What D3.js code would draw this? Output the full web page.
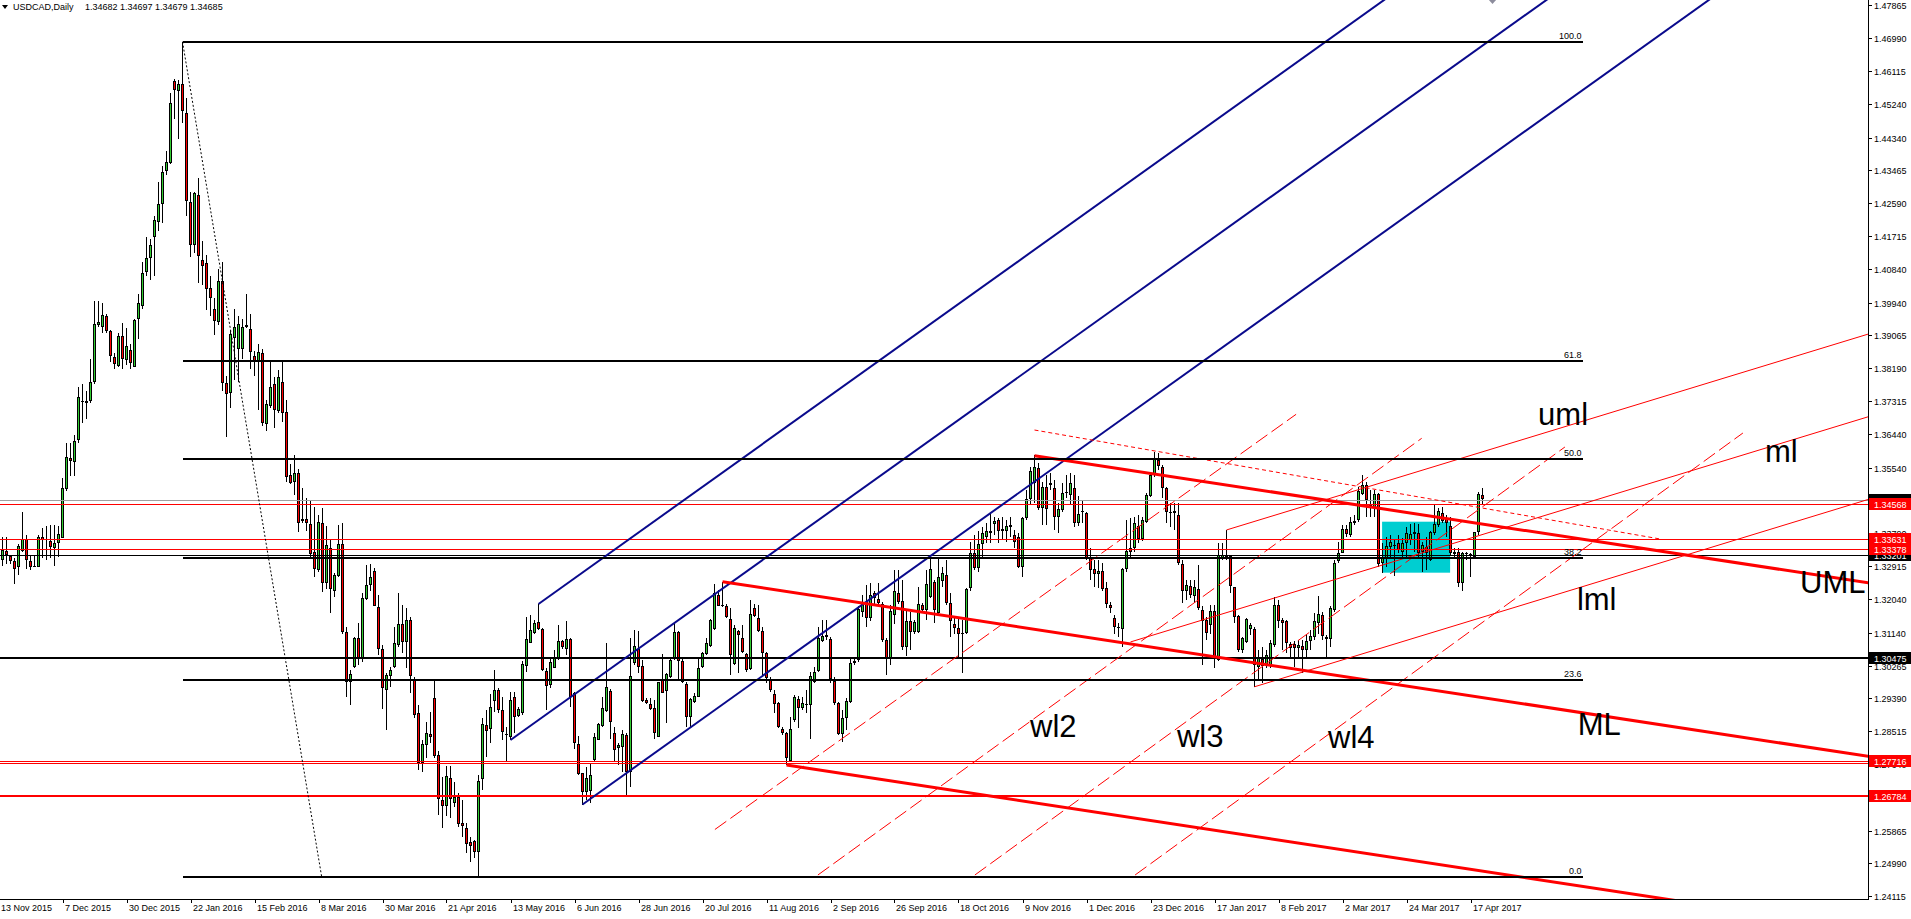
<!DOCTYPE html>
<html>
<head>
<meta charset="utf-8">
<script src="https://cdnjs.cloudflare.com/ajax/libs/d3/7.8.5/d3.min.js"></script>
<style>
html, body { margin: 0; padding: 0; background: #fff; overflow: hidden; }
text { font-family: "Liberation Sans", Arial, sans-serif; }
</style>
</head>
<body>
<svg id="chart" width="1911" height="919"></svg>
<script>
// USDCAD daily, 13 Nov 2015 .. 20 Apr 2017, one row per bar: [open, high, low, close]
var ohlc = [
[1.3310,1.3335,1.3290,1.3307],[1.3307,1.3369,1.3293,1.3335],[1.3331,1.3369,1.3297,1.3321],[1.3319,1.3321,1.3297,1.3305],
[1.3304,1.3312,1.3245,1.3283],[1.3288,1.3350,1.3269,1.3345],[1.3331,1.3436,1.3329,1.3364],[1.3364,1.3374,1.3283,1.3307],
[1.3304,1.3321,1.3281,1.3288],[1.3290,1.3321,1.3288,1.3293],[1.3288,1.3374,1.3288,1.3369],[1.3369,1.3393,1.3312,1.3361],
[1.3361,1.3398,1.3307,1.3364],[1.3359,1.3402,1.3312,1.3342],[1.3340,1.3402,1.3293,1.3352],[1.3352,1.3398,1.3316,1.3377],
[1.3367,1.3526,1.3367,1.3499],[1.3497,1.3621,1.3493,1.3582],[1.3580,1.3621,1.3531,1.3572],[1.3569,1.3640,1.3531,1.3624],
[1.3629,1.3769,1.3621,1.3742],[1.3731,1.3778,1.3674,1.3728],[1.3726,1.3759,1.3683,1.3733],[1.3731,1.3845,1.3726,1.3783],
[1.3783,1.3998,1.3776,1.3938],[1.3935,1.3998,1.3928,1.3942],[1.3928,1.3993,1.3912,1.3962],[1.3957,1.3964,1.3913,1.3918],
[1.3919,1.3921,1.3836,1.3853],[1.3850,1.3859,1.3818,1.3830],[1.3825,1.3912,1.3822,1.3904],[1.3904,1.3940,1.3818,1.3843],
[1.3840,1.3926,1.3827,1.3879],[1.3867,1.3883,1.3818,1.3834],[1.3823,1.3950,1.3822,1.3948],[1.3950,1.4016,1.3897,1.3992],
[1.3986,1.4102,1.3978,1.4072],[1.4075,1.4169,1.4064,1.4114],[1.4112,1.4164,1.4054,1.4147],[1.4169,1.4226,1.4064,1.4213],
[1.4209,1.4316,1.4186,1.4258],[1.4258,1.4359,1.4207,1.4342],[1.4345,1.4397,1.4335,1.4370],[1.4366,1.4554,1.4364,1.4527],
[1.4585,1.4589,1.4483,1.4560],[1.4557,1.4587,1.4430,1.4578],[1.4578,1.4690,1.4473,1.4504],[1.4499,1.4540,1.4226,1.4266],
[1.4261,1.4288,1.4116,1.4147],[1.4147,1.4288,1.4126,1.4286],[1.4280,1.4326,1.4045,1.4118],[1.4107,1.4159,1.4040,1.4091],
[1.4099,1.4121,1.3973,1.4031],[1.4032,1.4064,1.3959,1.4005],[1.3976,1.4007,1.3907,1.3944],[1.3942,1.4083,1.3935,1.4052],
[1.4052,1.4102,1.3759,1.3781],[1.3781,1.3798,1.3636,1.3750],[1.3752,1.3921,1.3712,1.3910],[1.3900,1.3978,1.3788,1.3929],
[1.3871,1.3959,1.3783,1.3938],[1.3871,1.3950,1.3845,1.3929],[1.3929,1.4016,1.3926,1.3933],[1.3923,1.3964,1.3818,1.3862],
[1.3852,1.3864,1.3798,1.3838],[1.3838,1.3883,1.3707,1.3862],[1.3860,1.3870,1.3665,1.3672],[1.3670,1.3734,1.3652,1.3725],
[1.3719,1.3841,1.3712,1.3768],[1.3776,1.3797,1.3659,1.3708],[1.3706,1.3814,1.3699,1.3795],[1.3783,1.3837,1.3677,1.3701],
[1.3702,1.3734,1.3517,1.3528],[1.3534,1.3564,1.3510,1.3512],[1.3517,1.3588,1.3481,1.3541],[1.3539,1.3550,1.3383,1.3406],
[1.3416,1.3499,1.3406,1.3413],[1.3416,1.3472,1.3386,1.3406],[1.3404,1.3469,1.3317,1.3323],[1.3328,1.3450,1.3262,1.3283],
[1.3281,1.3428,1.3277,1.3408],[1.3406,1.3446,1.3223,1.3246],[1.3246,1.3398,1.3230,1.3348],[1.3339,1.3361,1.3167,1.3230],
[1.3226,1.3272,1.3210,1.3268],[1.3265,1.3401,1.3263,1.3350],[1.3350,1.3406,1.3110,1.3117],[1.3117,1.3130,1.2944,1.2984],
[1.2984,1.3014,1.2921,1.3003],[1.3022,1.3104,1.3019,1.3099],[1.3099,1.3139,1.3028,1.3043],[1.3048,1.3219,1.3037,1.3206],
[1.3204,1.3295,1.3200,1.3240],[1.3240,1.3297,1.3224,1.3262],[1.3279,1.3286,1.3184,1.3186],[1.3183,1.3215,1.3055,1.3072],
[1.3072,1.3081,1.2912,1.2966],[1.2961,1.3006,1.2855,1.3001],[1.2999,1.3024,1.2970,1.3015],[1.3024,1.3130,1.3019,1.3086],
[1.3081,1.3219,1.3077,1.3136],[1.3136,1.3188,1.3059,1.3090],[1.3090,1.3179,1.3019,1.3148],[1.3148,1.3157,1.2953,1.2999],
[1.2988,1.2997,1.2886,1.2895],[1.2899,1.2921,1.2748,1.2766],[1.2766,1.2828,1.2744,1.2817],[1.2815,1.2877,1.2779,1.2846],
[1.2844,1.2904,1.2819,1.2835],[1.2940,1.2989,1.2779,1.2785],[1.2788,1.2800,1.2628,1.2670],[1.2668,1.2730,1.2593,1.2652],
[1.2652,1.2759,1.2626,1.2732],[1.2726,1.2759,1.2619,1.2670],[1.2659,1.2717,1.2650,1.2675],[1.2675,1.2686,1.2597,1.2603],
[1.2606,1.2668,1.2570,1.2599],[1.2594,1.2608,1.2526,1.2550],[1.2555,1.2570,1.2504,1.2546],[1.2559,1.2561,1.2513,1.2529],
[1.2529,1.2735,1.2463,1.2720],[1.2723,1.2886,1.2695,1.2870],[1.2868,1.2908,1.2784,1.2853],[1.2857,1.2952,1.2819,1.2917],
[1.2933,1.3016,1.2904,1.2961],[1.2961,1.2966,1.2899,1.2908],[1.2908,1.2944,1.2828,1.2850],[1.2844,1.2864,1.2770,1.2841],
[1.2837,1.2957,1.2828,1.2935],[1.2942,1.2957,1.2846,1.2890],[1.2892,1.2917,1.2890,1.2910],[1.2901,1.3039,1.2895,1.3030],
[1.3026,1.3157,1.3010,1.3097],[1.3088,1.3161,1.3086,1.3121],[1.3114,1.3148,1.3112,1.3139],[1.3142,1.3191,1.3121,1.3123],
[1.3123,1.3126,1.3013,1.3015],[1.3013,1.3019,1.2908,1.2972],[1.2975,1.3046,1.2966,1.3037],[1.3021,1.3068,1.3019,1.3046],
[1.3043,1.3135,1.3041,1.3093],[1.3091,1.3095,1.3072,1.3077],[1.3070,1.3144,1.3055,1.3097],[1.3097,1.3099,1.2915,1.2944],
[1.2953,1.2957,1.2803,1.2821],[1.2817,1.2839,1.2735,1.2738],[1.2739,1.2741,1.2656,1.2690],[1.2690,1.2757,1.2668,1.2726],
[1.2693,1.2766,1.2659,1.2734],[1.2775,1.2846,1.2772,1.2837],[1.2828,1.2874,1.2828,1.2871],[1.2866,1.2944,1.2864,1.2913],
[1.2906,1.3086,1.2904,1.2969],[1.2959,1.2963,1.2830,1.2877],[1.2846,1.2864,1.2770,1.2802],[1.2806,1.2819,1.2762,1.2815],
[1.2810,1.2855,1.2744,1.2843],[1.2841,1.2846,1.2677,1.2744],[1.2744,1.3099,1.2704,1.2999],[1.3033,1.3121,1.3028,1.3079],
[1.3072,1.3120,1.3006,1.3024],[1.3025,1.3041,1.2930,1.2933],[1.2935,1.2939,1.2924,1.2926],[1.2923,1.2939,1.2908,1.2910],
[1.2914,1.2935,1.2830,1.2846],[1.2837,1.2984,1.2835,1.2984],[1.2988,1.3057,1.2953,1.2954],[1.2960,1.3006,1.2874,1.3004],
[1.2997,1.3050,1.2993,1.3041],[1.3043,1.3141,1.3041,1.3117],[1.3117,1.3120,1.2988,1.3040],[1.3040,1.3043,1.2979,1.2984],
[1.2978,1.2984,1.2864,1.2890],[1.2890,1.2939,1.2859,1.2937],[1.2930,1.2953,1.2926,1.2945],[1.2944,1.3046,1.2942,1.3019],
[1.3022,1.3064,1.3019,1.3059],[1.3057,1.3099,1.3055,1.3086],[1.3080,1.3150,1.3077,1.3148],[1.3123,1.3244,1.3121,1.3219],
[1.3215,1.3228,1.3184,1.3186],[1.3188,1.3250,1.3183,1.3185],[1.3184,1.3190,1.3152,1.3155],[1.3150,1.3179,1.3001,1.3055],
[1.3030,1.3135,1.3028,1.3126],[1.3119,1.3121,1.3006,1.3108],[1.3101,1.3135,1.3059,1.3064],[1.3057,1.3061,1.3010,1.3015],
[1.3017,1.3201,1.3015,1.3164],[1.3179,1.3190,1.3157,1.3159],[1.3152,1.3188,1.3115,1.3119],[1.3120,1.3130,1.2997,1.3059],
[1.3059,1.3062,1.2979,1.2993],[1.2990,1.2997,1.2957,1.2961],[1.2951,1.2961,1.2899,1.2924],[1.2926,1.2930,1.2859,1.2862],
[1.2858,1.2864,1.2842,1.2846],[1.2846,1.2850,1.2762,1.2779],[1.2773,1.2890,1.2770,1.2857],[1.2882,1.2948,1.2877,1.2944],
[1.2937,1.2945,1.2859,1.2913],[1.2913,1.2944,1.2908,1.2926],[1.2923,1.2961,1.2899,1.2921],[1.2921,1.3010,1.2830,1.2999],
[1.2984,1.3024,1.2979,1.3010],[1.3013,1.3130,1.3010,1.3099],[1.3093,1.3148,1.3090,1.3105],[1.3108,1.3148,1.3095,1.3102],
[1.3097,1.3104,1.2979,1.2990],[1.2985,1.2997,1.2921,1.2926],[1.2926,1.2930,1.2842,1.2844],[1.2844,1.2908,1.2824,1.2888],
[1.2886,1.2939,1.2855,1.2933],[1.2930,1.3050,1.2926,1.3033],[1.3033,1.3046,1.3028,1.3039],[1.3041,1.3184,1.3037,1.3176],
[1.3168,1.3215,1.3157,1.3197],[1.3195,1.3241,1.3130,1.3152],[1.3152,1.3246,1.3144,1.3215],[1.3219,1.3224,1.3184,1.3206],
[1.3203,1.3246,1.3188,1.3192],[1.3190,1.3197,1.3090,1.3095],[1.3095,1.3099,1.3001,1.3043],[1.3043,1.3188,1.3028,1.3172],
[1.3161,1.3281,1.3137,1.3226],[1.3221,1.3281,1.3191,1.3197],[1.3199,1.3255,1.3068,1.3077],[1.3077,1.3176,1.3052,1.3144],
[1.3144,1.3170,1.3068,1.3117],[1.3117,1.3148,1.3112,1.3143],[1.3117,1.3237,1.3114,1.3190],[1.3188,1.3192,1.3166,1.3175],
[1.3175,1.3281,1.3148,1.3244],[1.3210,1.3312,1.3206,1.3283],[1.3248,1.3255,1.3139,1.3175],[1.3166,1.3312,1.3161,1.3262],
[1.3253,1.3290,1.3237,1.3272],[1.3268,1.3308,1.3188,1.3192],[1.3192,1.3219,1.3104,1.3144],[1.3137,1.3157,1.3112,1.3126],
[1.3126,1.3152,1.3050,1.3110],[1.3111,1.3148,1.3006,1.3114],[1.3114,1.3232,1.3112,1.3230],[1.3232,1.3357,1.3224,1.3326],
[1.3326,1.3375,1.3281,1.3286],[1.3286,1.3384,1.3277,1.3350],[1.3350,1.3397,1.3317,1.3379],[1.3370,1.3406,1.3352,1.3386],
[1.3381,1.3432,1.3352,1.3384],[1.3404,1.3423,1.3375,1.3412],[1.3415,1.3419,1.3352,1.3384],[1.3390,1.3423,1.3361,1.3386],
[1.3384,1.3415,1.3357,1.3399],[1.3395,1.3423,1.3370,1.3401],[1.3374,1.3388,1.3339,1.3357],[1.3370,1.3379,1.3286,1.3290],
[1.3290,1.3423,1.3263,1.3419],[1.3419,1.3495,1.3415,1.3470],[1.3470,1.3557,1.3455,1.3545],[1.3512,1.3588,1.3459,1.3557],
[1.3552,1.3566,1.3441,1.3446],[1.3446,1.3517,1.3401,1.3503],[1.3503,1.3534,1.3401,1.3443],[1.3508,1.3539,1.3494,1.3514],
[1.3499,1.3521,1.3388,1.3423],[1.3422,1.3459,1.3379,1.3443],[1.3441,1.3512,1.3437,1.3486],[1.3486,1.3534,1.3472,1.3490],
[1.3481,1.3539,1.3455,1.3512],[1.3499,1.3534,1.3397,1.3407],[1.3406,1.3478,1.3399,1.3431],[1.3436,1.3468,1.3406,1.3439],
[1.3432,1.3437,1.3308,1.3312],[1.3317,1.3339,1.3255,1.3281],[1.3283,1.3308,1.3237,1.3271],[1.3271,1.3308,1.3232,1.3279],
[1.3279,1.3299,1.3224,1.3230],[1.3232,1.3250,1.3179,1.3190],[1.3188,1.3197,1.3166,1.3179],[1.3152,1.3161,1.3112,1.3130],
[1.3130,1.3139,1.3104,1.3126],[1.3123,1.3286,1.3077,1.3283],[1.3283,1.3415,1.3277,1.3332],[1.3339,1.3419,1.3317,1.3330],
[1.3339,1.3423,1.3330,1.3407],[1.3398,1.3428,1.3352,1.3363],[1.3363,1.3423,1.3359,1.3415],[1.3410,1.3486,1.3406,1.3481],
[1.3478,1.3543,1.3477,1.3535],[1.3535,1.3597,1.3530,1.3576],[1.3574,1.3594,1.3548,1.3558],[1.3557,1.3561,1.3472,1.3499],
[1.3499,1.3503,1.3406,1.3437],[1.3437,1.3459,1.3397,1.3434],[1.3439,1.3459,1.3388,1.3432],[1.3428,1.3459,1.3295,1.3299],
[1.3297,1.3308,1.3192,1.3224],[1.3224,1.3255,1.3201,1.3241],[1.3239,1.3255,1.3206,1.3215],[1.3212,1.3255,1.3192,1.3237],
[1.3230,1.3295,1.3175,1.3179],[1.3175,1.3184,1.3028,1.3144],[1.3148,1.3157,1.3095,1.3114],[1.3135,1.3188,1.3112,1.3173],
[1.3173,1.3188,1.3019,1.3043],[1.3041,1.3352,1.3040,1.3321],[1.3310,1.3352,1.3308,1.3321],[1.3318,1.3388,1.3308,1.3312],
[1.3318,1.3321,1.3219,1.3239],[1.3235,1.3237,1.3139,1.3155],[1.3159,1.3161,1.3064,1.3068],[1.3068,1.3104,1.3059,1.3099],
[1.3090,1.3152,1.3086,1.3151],[1.3124,1.3140,1.3108,1.3135],[1.3124,1.3130,1.2970,1.3028],[1.3024,1.3068,1.2990,1.3050],
[1.3043,1.3077,1.2979,1.3025],[1.3025,1.3068,1.3019,1.3055],[1.3025,1.3095,1.3019,1.3086],[1.3081,1.3210,1.3077,1.3188],
[1.3188,1.3201,1.3126,1.3144],[1.3148,1.3152,1.3068,1.3141],[1.3144,1.3148,1.3059,1.3088],[1.3083,1.3090,1.3048,1.3073],
[1.3084,1.3093,1.3024,1.3073],[1.3073,1.3095,1.3048,1.3081],[1.3079,1.3095,1.3006,1.3068],[1.3068,1.3112,1.3050,1.3093],
[1.3093,1.3121,1.3068,1.3105],[1.3103,1.3167,1.3095,1.3145],[1.3139,1.3212,1.3112,1.3163],[1.3161,1.3170,1.3095,1.3105],
[1.3102,1.3108,1.3050,1.3097],[1.3097,1.3184,1.3077,1.3179],[1.3175,1.3308,1.3170,1.3301],[1.3304,1.3357,1.3299,1.3326],
[1.3327,1.3401,1.3326,1.3390],[1.3390,1.3401,1.3370,1.3376],[1.3374,1.3423,1.3370,1.3410],[1.3406,1.3428,1.3401,1.3412],
[1.3415,1.3503,1.3410,1.3492],[1.3484,1.3534,1.3481,1.3508],[1.3508,1.3517,1.3422,1.3468],[1.3455,1.3494,1.3423,1.3446],
[1.3446,1.3494,1.3423,1.3484],[1.3484,1.3487,1.3290,1.3297],[1.3301,1.3352,1.3272,1.3312],[1.3312,1.3370,1.3290,1.3345],
[1.3343,1.3375,1.3310,1.3355],[1.3348,1.3361,1.3264,1.3345],[1.3352,1.3375,1.3326,1.3335],[1.3330,1.3366,1.3315,1.3352],
[1.3352,1.3395,1.3317,1.3379],[1.3361,1.3404,1.3348,1.3376],[1.3376,1.3407,1.3330,1.3382],[1.3379,1.3404,1.3317,1.3327],
[1.3330,1.3357,1.3277,1.3348],[1.3342,1.3370,1.3281,1.3327],[1.3308,1.3385,1.3306,1.3383],[1.3381,1.3455,1.3374,1.3403],
[1.3401,1.3446,1.3397,1.3439],[1.3432,1.3448,1.3407,1.3413],[1.3419,1.3428,1.3370,1.3406],[1.3399,1.3423,1.3321,1.3326],
[1.3328,1.3339,1.3312,1.3324],[1.3328,1.3339,1.3237,1.3246],[1.3246,1.3328,1.3224,1.3326],[1.3323,1.3330,1.3308,1.3326],
[1.3325,1.3326,1.3263,1.3321],[1.3317,1.3383,1.3312,1.3382],[1.3382,1.3490,1.3374,1.3484],[1.3480,1.3499,1.3455,1.3471]
];

// one time label every 16 bars
var dateLabels = ["13 Nov 2015","7 Dec 2015","30 Dec 2015","22 Jan 2016","15 Feb 2016","8 Mar 2016",
  "30 Mar 2016","21 Apr 2016","13 May 2016","6 Jun 2016","28 Jun 2016","20 Jul 2016","11 Aug 2016",
  "2 Sep 2016","26 Sep 2016","18 Oct 2016","9 Nov 2016","1 Dec 2016","23 Dec 2016","17 Jan 2017",
  "8 Feb 2017","2 Mar 2017","24 Mar 2017","17 Apr 2017"];
var priceTicks = [1.47865,1.46990,1.46115,1.45240,1.44340,1.43465,1.42590,1.41715,1.40840,1.39940,
  1.39065,1.38190,1.37315,1.36440,1.35540,1.34665,1.33790,1.32915,1.32040,1.31140,1.30265,1.29390,
  1.28515,1.27640,1.26765,1.25865,1.24990,1.24115];

var headerName = "USDCAD,Daily";
var headerQuote = [1.34682, 1.34697, 1.34679, 1.34685];
var bidPrice = 1.34685;

// horizontal price lines
var redLevels = [1.34568, 1.33631, 1.33378, 1.27716, 1.27660];
var redThickLevels = [1.26784];
var blackLevels = [1.33201];
var blackThickLevels = [1.30475];
var redLabels = [1.34568, 1.33631, 1.33378, 1.27716, 1.26784];
var blackLabels = [1.34685, 1.33201, 1.30475];

// fibonacci retracement
var fibRatios = [0, 23.6, 38.2, 50, 61.8, 100];
var fibHigh = [46, 1.46895];
var fibLow = [80.8, 1.24630];
var fibEndBar = 396;

// andrews pitchforks: [bar, price] for handle, upper, lower
var bluePitchfork = [[128, 1.28282], [135, 1.31907], [146, 1.26561]];
var redPitchfork = [[181, 1.32501], [259, 1.35859], [197, 1.27615]];
var thinPitchfork = [[283, 1.30895], [307, 1.33880], [314, 1.29700]];

// dashed warning lines and dotted trend line
var warnLines = [
  [[179.1, 1.25896], [324.4, 1.36963]],
  [[204.85, 1.24683], [355.8, 1.36323]],
  [[244.1, 1.24683], [391.6, 1.36091]],
  [[284.15, 1.24683], [436.1, 1.36464]]
];
var dottedLine = [[259, 1.36544], [415.4, 1.33639]];

// range box
var boxBars = [345.9, 362.9];
var boxPrices = [1.32741, 1.34100];

// text objects: [label, bar, price]
var notes = [
  ["uml", 384.9, 1.36678], ["ml", 441.6, 1.35692], ["lml", 394.6, 1.31746],
  ["UML", 450.4, 1.32208], ["ML", 394.8, 1.28415],
  ["wl2", 257.9, 1.28362], ["wl3", 294.6, 1.28082], ["wl4", 332.4, 1.28069]
];

var W = 1911, H = 919, plotR = 1868, plotB = 899;
var x = d3.scaleLinear().domain([0, 371]).range([-1.5, 1482.5]);
var y = d3.scaleLinear().domain([1.24115, 1.47865]).range([896.3, 5.3]);
var BULL = "#32cd32", BEAR = "#ff0000";

var svg = d3.select("#chart");
svg.append("rect").attr("width", W).attr("height", H).attr("fill", "#fff");
svg.append("defs").append("clipPath").attr("id", "plot")
  .append("rect").attr("x", 0).attr("y", 0).attr("width", plotR).attr("height", plotB);
var plot = svg.append("g").attr("clip-path", "url(#plot)");

// range box sits behind the bars
plot.append("rect")
  .attr("x", x(boxBars[0])).attr("y", y(boxPrices[1]))
  .attr("width", x(boxBars[1]) - x(boxBars[0]))
  .attr("height", y(boxPrices[0]) - y(boxPrices[1]))
  .attr("fill", "#00ced1");

// candles
var bars = plot.append("g").attr("shape-rendering", "crispEdges")
  .selectAll("g").data(ohlc).enter().append("g");
bars.append("rect")
  .attr("x", function(d, i) { return x(i) - 0.5; })
  .attr("y", function(d) { return Math.round(y(d[1])); })
  .attr("width", 1)
  .attr("height", function(d) { return Math.max(1, Math.round(y(d[2])) - Math.round(y(d[1]))); })
  .attr("fill", "#000");
bars.append("rect")
  .attr("x", function(d, i) { return x(i) - 1.5; })
  .attr("y", function(d) { return Math.round(y(Math.max(d[0], d[3]))); })
  .attr("width", 3)
  .attr("height", function(d) { return Math.max(1, Math.round(y(Math.min(d[0], d[3]))) - Math.round(y(Math.max(d[0], d[3])))); })
  .attr("fill", "#000");
bars.append("rect")
  .attr("x", function(d, i) { return x(i) - 0.5; })
  .attr("y", function(d) { return Math.round(y(Math.max(d[0], d[3]))) + 1; })
  .attr("width", 1)
  .attr("height", function(d) { return Math.max(0, Math.round(y(Math.min(d[0], d[3]))) - Math.round(y(Math.max(d[0], d[3]))) - 2); })
  .attr("fill", function(d) { return d[3] >= d[0] ? BULL : BEAR; });

// horizontal lines
function hline(p, color, w) {
  var yy = Math.round(y(p)) + (w % 2 ? 0.5 : 0);
  plot.append("line").attr("x1", 0).attr("x2", plotR).attr("y1", yy).attr("y2", yy)
    .attr("stroke", color).attr("stroke-width", w).attr("shape-rendering", "crispEdges");
}
hline(bidPrice, "#a0a0a0", 1);
redLevels.forEach(function(p) { hline(p, "#ff0000", 1); });
redThickLevels.forEach(function(p) { hline(p, "#ff0000", 2); });
blackLevels.forEach(function(p) { hline(p, "#000", 1); });
blackThickLevels.forEach(function(p) { hline(p, "#000", 2); });

// fibonacci levels
var fibG = svg.append("g");
fibRatios.forEach(function(r) {
  var p = fibLow[1] + (fibHigh[1] - fibLow[1]) * r / 100;
  var yy = Math.round(y(p));
  fibG.append("line").attr("x1", x(fibHigh[0])).attr("x2", x(fibEndBar))
    .attr("y1", yy).attr("y2", yy).attr("stroke", "#000").attr("stroke-width", 2)
    .attr("shape-rendering", "crispEdges");
  fibG.append("text").attr("x", x(fibEndBar) - 1).attr("y", yy - 3)
    .attr("text-anchor", "end").attr("font-size", 9).text(r.toFixed(1));
});
plot.append("line")
  .attr("x1", x(fibHigh[0])).attr("y1", y(fibHigh[1]))
  .attr("x2", x(fibLow[0])).attr("y2", y(fibLow[1]))
  .attr("stroke", "#000").attr("stroke-width", 1).attr("stroke-dasharray", "2,2");

// pitchforks
function pitchfork(pts, color, w) {
  var p = pts.map(function(d) { return [x(d[0]), y(d[1])]; });
  var mx = (p[1][0] + p[2][0]) / 2, my = (p[1][1] + p[2][1]) / 2;
  var s = (my - p[0][1]) / (mx - p[0][0]);
  p.forEach(function(q) {
    plot.append("line").attr("x1", q[0]).attr("y1", q[1])
      .attr("x2", 2100).attr("y2", q[1] + s * (2100 - q[0]))
      .attr("stroke", color).attr("stroke-width", w);
  });
}
pitchfork(bluePitchfork, "#0a0a8c", 2);
pitchfork(redPitchfork, "#ff0000", 3);
pitchfork(thinPitchfork, "#ff0000", 1);

// dashed and dotted segments
warnLines.forEach(function(l) {
  plot.append("line").attr("x1", x(l[0][0])).attr("y1", y(l[0][1]))
    .attr("x2", x(l[1][0])).attr("y2", y(l[1][1]))
    .attr("stroke", "#ff0000").attr("stroke-width", 1).attr("stroke-dasharray", "14,5");
});
plot.append("line").attr("x1", x(dottedLine[0][0])).attr("y1", y(dottedLine[0][1]))
  .attr("x2", x(dottedLine[1][0])).attr("y2", y(dottedLine[1][1]))
  .attr("stroke", "#ff0000").attr("stroke-width", 1).attr("stroke-dasharray", "4,3");

// gray arrow marker at top edge
plot.append("path").attr("d", "M1492.5,-5L1496.5,-0.5L1492.5,4L1488.5,-0.5Z").attr("fill", "#8c8c9c");

// text objects
notes.forEach(function(n) {
  svg.append("text").attr("x", x(n[1])).attr("y", y(n[2]))
    .attr("font-size", 31).attr("fill", "#000").text(n[0]);
});

// axes
svg.append("line").attr("x1", plotR + 0.5).attr("x2", plotR + 0.5).attr("y1", 0).attr("y2", plotB + 1)
  .attr("stroke", "#000").attr("shape-rendering", "crispEdges");
svg.append("line").attr("x1", 0).attr("x2", plotR + 1).attr("y1", plotB + 0.5).attr("y2", plotB + 0.5)
  .attr("stroke", "#000").attr("shape-rendering", "crispEdges");

var yAxis = svg.append("g");
priceTicks.forEach(function(p) {
  var yy = Math.round(y(p)) + 0.5;
  yAxis.append("line").attr("x1", plotR).attr("x2", plotR + 4).attr("y1", yy).attr("y2", yy)
    .attr("stroke", "#000").attr("shape-rendering", "crispEdges");
  yAxis.append("text").attr("x", plotR + 6).attr("y", yy + 3.5).attr("font-size", 9).text(p.toFixed(5));
});

var xAxis = svg.append("g");
dateLabels.forEach(function(t, k) {
  var xx = Math.round(x(k * 16)) + 0.5;
  xAxis.append("line").attr("x1", xx).attr("x2", xx).attr("y1", plotB).attr("y2", plotB + 4)
    .attr("stroke", "#000").attr("shape-rendering", "crispEdges");
  xAxis.append("text").attr("x", xx + 1.5).attr("y", 911).attr("font-size", 9).text(t);
});

// price tags on the axis
function tag(p, bg) {
  var yy = Math.round(y(p));
  yAxis.append("rect").attr("x", plotR + 1).attr("y", yy - 6).attr("width", W - plotR - 1).attr("height", 12)
    .attr("fill", bg);
  yAxis.append("text").attr("x", plotR + 6).attr("y", yy + 3.5).attr("font-size", 9)
    .attr("fill", "#fff").text(p.toFixed(5));
}
blackLabels.forEach(function(p) { tag(p, "#000"); });
redLabels.forEach(function(p) { tag(p, "#ff0000"); });

// header
svg.append("path").attr("d", "M2,5L8,5L5,9Z").attr("fill", "#000");
svg.append("text").attr("x", 13).attr("y", 10).attr("font-size", 9).text(headerName);
svg.append("text").attr("x", 85).attr("y", 10).attr("font-size", 9)
  .text(headerQuote.map(function(v) { return v.toFixed(5); }).join(" "));
</script>
</body>
</html>
